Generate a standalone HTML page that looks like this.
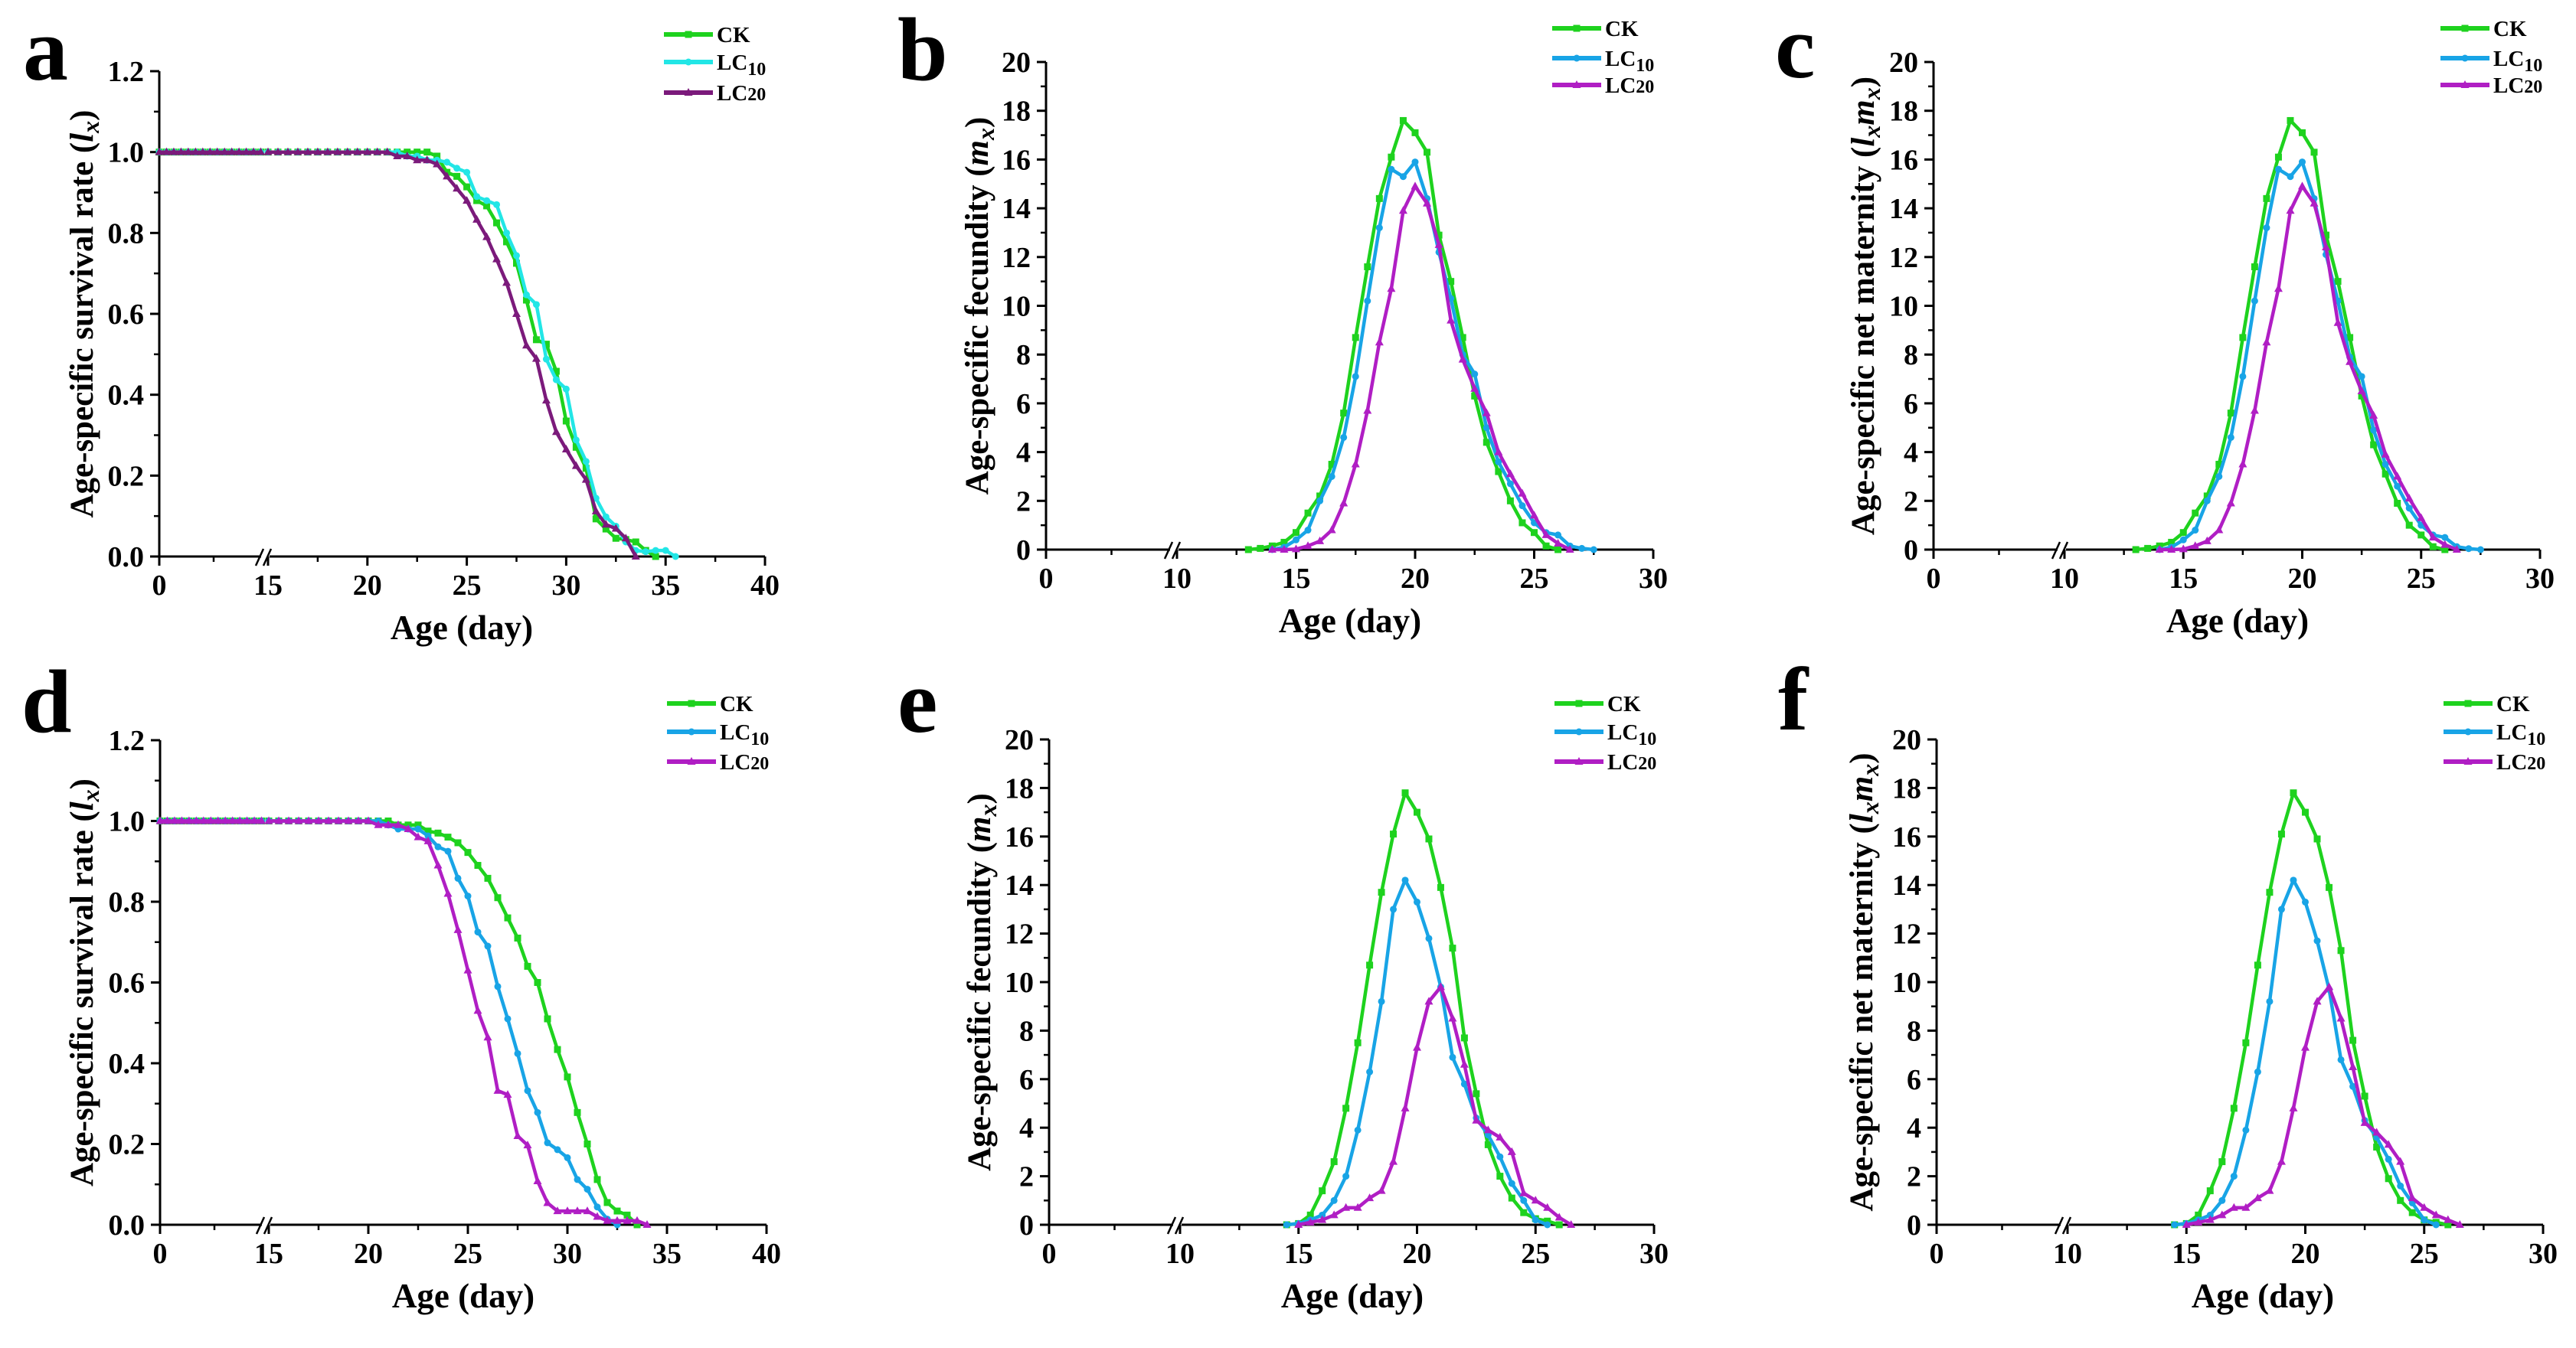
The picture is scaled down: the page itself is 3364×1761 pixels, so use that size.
<!DOCTYPE html>
<html><head><meta charset="utf-8"><style>
html,body{margin:0;padding:0;background:#fff;}
svg{display:block;font-family:"Liberation Serif",serif;font-weight:bold;}
</style></head><body>
<svg id="fig" width="3364" height="1761" viewBox="0 0 3364 1761" xmlns="http://www.w3.org/2000/svg"></svg>
<script>
// ---------- DATA ----------
const STEP = 0.5;
// Survival (lx) panels: left segment ages 0..14 (step 1), right segment starts at 15 (step 0.5)
const survLeftAges = [0,1,2,3,4,5,6,7,8,9,10,11,12,13,14];
const aLeftCK   = [1,1,1,1,1,1,1,1,1,1,1,1,1,1,1];
const aLeftLC10 = [1,1,1,1,1,1,1,1,1,1,1,1,1,1,1];
const aLeftLC20 = [1,1,1,1,1,1,1,1,1,1,1,1,1,1,1];
const survStart = 15;
const aCK   = [1,1,1,1,1,1,1,1,1,1,1,1,1,1,1,1,1,0.99,0.95,0.94,0.914,0.88,0.867,0.825,0.778,0.725,0.634,0.536,0.525,0.458,0.335,0.27,0.218,0.093,0.068,0.045,0.042,0.036,0.015,0];
const aLC10 = [1,1,1,1,1,1,1,1,1,1,1,1,1,1,0.99,0.99,0.98,0.98,0.975,0.96,0.95,0.89,0.88,0.87,0.80,0.744,0.647,0.623,0.488,0.437,0.414,0.288,0.235,0.144,0.098,0.075,0.036,0.015,0.012,0.015,0.015,0];
const aLC20 = [1,1,1,1,1,1,1,1,1,1,1,1,1,0.99,0.99,0.98,0.98,0.97,0.94,0.91,0.88,0.833,0.79,0.735,0.677,0.60,0.522,0.489,0.386,0.308,0.265,0.224,0.19,0.112,0.079,0.069,0.045,0];
const dLeftCK   = [1,1,1,1,1,1,1,1,1,1,1,1,1,1,1];
const dLeftLC10 = [1,1,1,1,1,1,1,1,1,1,1,1,1,1,1];
const dLeftLC20 = [1,1,1,1,1,1,1,1,1,1,1,1,1,1,1];
const dCK   = [1,1,1,1,1,1,1,1,1,1,1,1,1,0.99,0.99,0.99,0.975,0.97,0.96,0.946,0.922,0.89,0.858,0.81,0.76,0.71,0.64,0.60,0.51,0.434,0.366,0.278,0.20,0.112,0.055,0.034,0.024,0];
const dLC10 = [1,1,1,1,1,1,1,1,1,1,1,1,0.99,0.98,0.98,0.98,0.963,0.936,0.925,0.858,0.814,0.725,0.69,0.59,0.51,0.424,0.332,0.278,0.203,0.186,0.166,0.112,0.088,0.044,0.014,0];
const dLC20 = [1,1,1,1,1,1,1,1,1,1,1,0.99,0.99,0.99,0.98,0.96,0.95,0.89,0.82,0.73,0.63,0.53,0.464,0.332,0.322,0.22,0.197,0.108,0.054,0.034,0.034,0.034,0.034,0.02,0.01,0.01,0.01,0.01,0];
// Fecundity (mx) panel b, start ages
const bCKStart = 13, bLC10Start = 14, bLC20Start = 14;
const bCK   = [0,0.05,0.15,0.3,0.7,1.5,2.2,3.5,5.6,8.7,11.6,14.4,16.1,17.6,17.1,16.3,12.9,11.0,8.7,6.3,4.4,3.2,2.0,1.1,0.7,0.15,0];
const bLC10 = [0,0.1,0.4,0.8,2.0,3.0,4.6,7.1,10.2,13.2,15.6,15.3,15.9,14.4,12.2,10.3,8.0,7.2,5.0,3.6,2.7,1.8,1.1,0.7,0.6,0.15,0.05,0];
const bLC20 = [0,0,0.02,0.15,0.35,0.8,1.9,3.5,5.7,8.5,10.7,13.9,14.9,14.2,12.5,9.4,7.8,6.6,5.6,4.0,3.1,2.3,1.4,0.6,0.25,0];
// Net maternity (lxmx) panel c
const cCK   = [0,0.05,0.15,0.3,0.7,1.5,2.2,3.5,5.6,8.7,11.6,14.4,16.1,17.6,17.1,16.3,12.9,11.0,8.7,6.3,4.3,3.1,1.9,1.0,0.6,0.12,0];
const cLC10 = [0,0.1,0.4,0.8,2.0,3.0,4.6,7.1,10.2,13.2,15.6,15.3,15.9,14.4,12.1,10.2,7.9,7.1,4.9,3.5,2.6,1.7,1.0,0.6,0.5,0.12,0.04,0];
const cLC20 = [0,0,0.02,0.15,0.35,0.8,1.9,3.5,5.7,8.5,10.7,13.9,14.9,14.2,12.4,9.3,7.7,6.5,5.5,3.9,3.0,2.1,1.3,0.5,0.2,0];
// Fecundity panel e
const eCKStart = 14.5, eLC10Start = 14.5, eLC20Start = 15;
const eCK   = [0,0.05,0.4,1.4,2.6,4.8,7.5,10.7,13.7,16.1,17.8,17.0,15.9,13.9,11.4,7.7,5.4,3.3,2.0,1.1,0.5,0.25,0.15,0];
const eLC10 = [0,0.05,0.2,0.4,1.0,2.0,3.9,6.3,9.2,13.0,14.2,13.3,11.8,9.8,6.9,5.8,4.4,3.7,2.8,1.7,1.0,0.2,0];
const eLC20 = [0,0.1,0.2,0.4,0.7,0.7,1.1,1.4,2.6,4.8,7.3,9.2,9.8,8.5,6.6,4.3,3.9,3.6,3.0,1.3,1.0,0.7,0.3,0];
// Net maternity panel f
const fCK   = [0,0.05,0.4,1.4,2.6,4.8,7.5,10.7,13.7,16.1,17.8,17.0,15.9,13.9,11.3,7.6,5.3,3.2,1.9,1.0,0.5,0.2,0.1,0];
const fLC10 = [0,0.05,0.2,0.4,1.0,2.0,3.9,6.3,9.2,13.0,14.2,13.3,11.7,9.7,6.8,5.7,4.3,3.6,2.7,1.6,0.9,0.2,0];
const fLC20 = [0,0.1,0.2,0.4,0.7,0.7,1.1,1.4,2.6,4.8,7.3,9.2,9.8,8.5,6.5,4.2,3.8,3.3,2.6,1.1,0.7,0.4,0.2,0];
// Tick labels
const survXTicks = [0,15,20,25,30,35,40];
const survXMinor = [7.5,17.5,22.5,27.5,32.5,37.5];
const survYTicks = ["0.0","0.2","0.4","0.6","0.8","1.0","1.2"];
const fecXTicks = [0,10,15,20,25,30];
const fecXMinor = [5,12.5,17.5,22.5,27.5];
const fecYTicks = ["0","2","4","6","8","10","12","14","16","18","20"];

// ---------- RENDER ----------
const NS = "http://www.w3.org/2000/svg";
const svg = document.getElementById("fig");
function el(tag, attrs, parent){
  const e = document.createElementNS(NS, tag);
  for (const k in attrs) e.setAttribute(k, attrs[k]);
  (parent||svg).appendChild(e);
  return e;
}
function ages(start, n){ const r=[]; for(let i=0;i<n;i++) r.push(start+i*STEP); return r; }

function makePanel(p){
  const g = el("g", {});
  
  
  const X = v => v <= p.brk ? p.x0 + v*(p.xb - p.x0)/p.brk : p.xb + (v - p.brk)*(p.x1 - p.xb)/(p.xmax - p.brk);
  const Y = v => p.y0 - v*(p.y0 - p.y1)/p.ymax;
  const xa = el("path", {d:`M${p.x0} ${p.y0} H${p.xb-9} M${p.xb+2} ${p.y0} H${p.x1}`, stroke:"#000","stroke-width":3, fill:"none"}, g);
  
  
  const ya = el("line", {x1:p.x0, y1:p.y0+12, x2:p.x0, y2:p.y1, stroke:"#000","stroke-width":3}, g);
  
  
  const br = el("path", {d:`M${p.xb-16} ${p.y0+12} L${p.xb-6} ${p.y0-10} M${p.xb-6} ${p.y0+12} L${p.xb+4} ${p.y0-10}`, stroke:"#000","stroke-width":2.5, fill:"none"}, g);
  
  
  p.xt.forEach(v=>{
    const t = el("line", {x1:X(v), x2:X(v), y1:p.y0, y2:p.y0+12, stroke:"#000","stroke-width":3}, g);
    
    
    const l = el("text", {x:X(v), y:p.y0+50, "text-anchor":"middle","font-size":38}, g);
    l.textContent = v;
    
    
  });
  p.xm.forEach(v=>{
    const t = el("line", {x1:X(v), x2:X(v), y1:p.y0, y2:p.y0+7, stroke:"#000","stroke-width":2.5}, g);
    
    
  });
  const n = p.yt.length - 1;
  p.yt.forEach((lab,i)=>{
    const v = p.ymax*i/n, y = Y(v);
    const t = el("line", {x1:p.x0-12, x2:p.x0, y1:y, y2:y, stroke:"#000","stroke-width":3}, g);
    
    
    const l = el("text", {x:p.x0-20, y:y+13, "text-anchor":"end","font-size":38}, g);
    l.textContent = lab;
    
    
    if (i < n){
      const ym = Y(v + p.ymax/n/2);
      const m = el("line", {x1:p.x0-7, x2:p.x0, y1:ym, y2:ym, stroke:"#000","stroke-width":2.5}, g);
      
      
    }
  });
  const xt = el("text", {x:p.xtc, y:p.y0+108, "text-anchor":"middle","font-size":45}, g);
  xt.textContent = "Age (day)";
  
  
  const yc = (p.y0+p.y1)/2;
  const yt = el("text", {x:0, y:0, "text-anchor":"middle","font-size":43, transform:`translate(${p.ytx},${yc}) rotate(-90)`}, g);
  yt.innerHTML = p.ytitle;
  
  
  const pl = el("text", {x:p.lx, y:p.ly, "font-size":118}, g);
  pl.textContent = p.id;
  
  
  p.series.forEach(s=>{
    const sg = el("g", {}, g);
    
    
    s.segs.forEach(seg=>{
      const pts = seg.x.map((a,i)=>X(a).toFixed(1)+","+Y(seg.y[i]).toFixed(1)).join(" ");
      const ln = el("polyline", {points:pts, fill:"none", stroke:s.color, "stroke-width":4.5, "stroke-linejoin":"round"}, sg);
      
      
      seg.x.forEach((a,i)=>{
        const mk = marker(s.shape, X(a), Y(seg.y[i]), s.color, sg);
        
        
      });
    });
  });
  p.series.forEach((s,i)=>{
    const y = p.legY[i];
    const lg = el("g", {}, g);
    
    
    el("line", {x1:p.legX, x2:p.legX+64, y1:y, y2:y, stroke:s.color, "stroke-width":6}, lg);
    marker(s.shape, p.legX+32, y, s.color, lg);
    const t = el("text", {x:p.legX+69, y:y+10, "font-size":29}, lg);
    t.innerHTML = s.label;
  });
}
function marker(shape, x, y, c, parent){
  if (shape==="sq") return el("rect", {x:x-4.5, y:y-4.5, width:9, height:9, fill:c}, parent);
  if (shape==="ci") return el("circle", {cx:x, cy:y, r:4.5, fill:c}, parent);
  return el("path", {d:`M${x} ${y-6} L${x+5.5} ${y+4} L${x-5.5} ${y+4} Z`, fill:c}, parent);
}
const GREEN="#1ed21e", CYAN="#22e6e6", BLUE="#18a4e6", DPUR="#7b1a7b", MAG="#b01ec4";
const LBL_CK = "CK", LBL_10 = 'LC<tspan font-size="24" dy="7">10</tspan>', LBL_20 = 'LC<tspan font-size="24">20</tspan>';
function survSeries(left, right, name, color, shape, label){
  return {name, color, shape, label, segs:[{x:survLeftAges, y:left},{x:ages(survStart,right.length), y:right}]};
}
function fecSeries(start, vals, name, color, shape, label){
  return {name, color, shape, label, segs:[{x:ages(start, vals.length), y:vals}]};
}
const YT_SURV = 'Age-specific survival rate (<tspan font-style="italic">l<tspan font-size="32" dy="8">x</tspan></tspan><tspan dy="-8">)</tspan>';
const YT_FEC = 'Age-specific fecundity (<tspan font-style="italic">m<tspan font-size="32" dy="8">x</tspan></tspan><tspan dy="-8">)</tspan>';
const YT_NET = 'Age-specific net maternity (<tspan font-style="italic">l<tspan font-size="32" dy="8">x</tspan><tspan dy="-8">m</tspan><tspan font-size="32" dy="8">x</tspan></tspan><tspan dy="-8">)</tspan>';

makePanel({id:"a", x0:208, xb:350, x1:999, brk:15, xmax:40, y0:727, y1:93, ymax:1.2,
  xt:survXTicks, xm:survXMinor, yt:survYTicks, xtc:603, ytx:121, ytitle:YT_SURV, lx:30, ly:104,
  legX:867, legY:[45,81,121],
  series:[survSeries(aLeftCK,aCK,"CK",GREEN,"sq",LBL_CK), survSeries(aLeftLC10,aLC10,"LC10",CYAN,"ci",LBL_10), survSeries(aLeftLC20,aLC20,"LC20",DPUR,"tr",LBL_20)]});
makePanel({id:"b", x0:1366, xb:1537, x1:2159, brk:10, xmax:30, y0:718, y1:81, ymax:20,
  xt:fecXTicks, xm:fecXMinor, yt:fecYTicks, xtc:1763, ytx:1290, ytitle:YT_FEC, lx:1172, ly:104,
  legX:2027, legY:[37,76,111],
  series:[fecSeries(bCKStart,bCK,"CK",GREEN,"sq",LBL_CK), fecSeries(bLC10Start,bLC10,"LC10",BLUE,"ci",LBL_10), fecSeries(bLC20Start,bLC20,"LC20",MAG,"tr",LBL_20)]});
makePanel({id:"c", x0:2525, xb:2696, x1:3317, brk:10, xmax:30, y0:718, y1:81, ymax:20,
  xt:fecXTicks, xm:fecXMinor, yt:fecYTicks, xtc:2922, ytx:2447, ytitle:YT_NET, lx:2318, ly:101,
  legX:3187, legY:[37,76,111],
  series:[fecSeries(bCKStart,cCK,"CK",GREEN,"sq",LBL_CK), fecSeries(bLC10Start,cLC10,"LC10",BLUE,"ci",LBL_10), fecSeries(bLC20Start,cLC20,"LC20",MAG,"tr",LBL_20)]});
makePanel({id:"d", x0:209, xb:351, x1:1001, brk:15, xmax:40, y0:1600, y1:967, ymax:1.2,
  xt:survXTicks, xm:survXMinor, yt:survYTicks, xtc:605, ytx:121, ytitle:YT_SURV, lx:28, ly:956,
  legX:871, legY:[919,956,995],
  series:[survSeries(dLeftCK,dCK,"CK",GREEN,"sq",LBL_CK), survSeries(dLeftLC10,dLC10,"LC10",BLUE,"ci",LBL_10), survSeries(dLeftLC20,dLC20,"LC20",MAG,"tr",LBL_20)]});
makePanel({id:"e", x0:1370, xb:1541, x1:2160, brk:10, xmax:30, y0:1600, y1:966, ymax:20,
  xt:fecXTicks, xm:fecXMinor, yt:fecYTicks, xtc:1766, ytx:1293, ytitle:YT_FEC, lx:1172, ly:956,
  legX:2030, legY:[919,956,995],
  series:[fecSeries(eCKStart,eCK,"CK",GREEN,"sq",LBL_CK), fecSeries(eLC10Start,eLC10,"LC10",BLUE,"ci",LBL_10), fecSeries(eLC20Start,eLC20,"LC20",MAG,"tr",LBL_20)]});
makePanel({id:"f", x0:2529, xb:2700, x1:3321, brk:10, xmax:30, y0:1600, y1:966, ymax:20,
  xt:fecXTicks, xm:fecXMinor, yt:fecYTicks, xtc:2955, ytx:2445, ytitle:YT_NET, lx:2322, ly:953,
  legX:3191, legY:[919,956,995],
  series:[fecSeries(eCKStart,fCK,"CK",GREEN,"sq",LBL_CK), fecSeries(eLC10Start,fLC10,"LC10",BLUE,"ci",LBL_10), fecSeries(eLC20Start,fLC20,"LC20",MAG,"tr",LBL_20)]});
</script>
</body></html>
